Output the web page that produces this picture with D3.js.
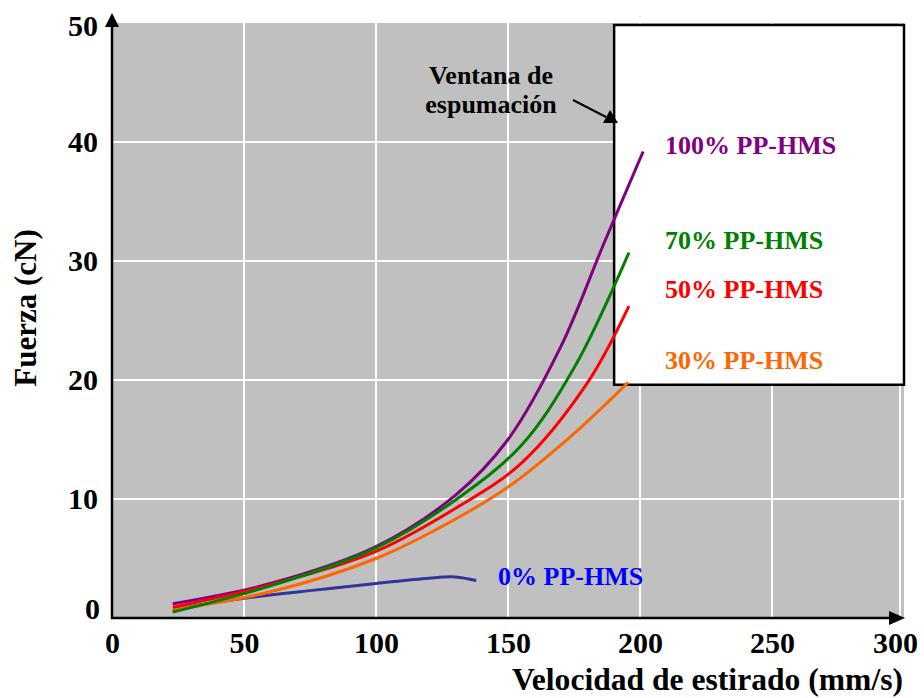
<!DOCTYPE html>
<html><head><meta charset="utf-8">
<script src="https://cdn.jsdelivr.net/npm/d3@7"></script>
</head>
<body style="margin:0;background:#fff"><svg id="c" width="924" height="698"></svg>
<script>
// ---- data ----
const xTicks = [0, 50, 100, 150, 200, 250, 300];
const yTicks = [0, 10, 20, 30, 40, 50];
const seriesNames = ["100% PP-HMS", "70% PP-HMS", "50% PP-HMS", "30% PP-HMS", "0% PP-HMS"];
const seriesColors = ["#800080", "#008000", "#ff0000", "#ff6600", "#333399"];
const labelColors = ["#800080", "#008000", "#ff0000", "#ff6600", "#0000ff"];
const pp100 = [[23,1.2],[60,2.9],[100,6.0],[130,10.3],[150,15.0],[170,22.8],[186,31.3],[201.2,39.2]];
const pp70  = [[23,0.5],[60,2.7],[100,5.9],[130,9.9],[155,14.5],[175,21.0],[195.8,30.7]];
const pp50  = [[23,0.9],[60,2.8],[100,5.6],[130,9.2],[155,13.0],[180.2,19.8],[195.8,26.2]];
const pp30  = [[23,0.7],[60,2.2],[100,5.0],[130,8.3],[150,11.0],[175,15.5],[195.5,19.8]];
const pp0   = [[25,0.8],[50,1.65],[75,2.3],[100,2.9],[120,3.35],[130,3.45],[138,3.15]];
const seriesData = [pp100, pp70, pp50, pp30, pp0];
const windowBox = {x0:190.2, x1:300, y0:19.6, y1:50};
const windowText = ["Ventana de", "espumación"];

// ---- drawing ----
const FONT = '"Liberation Serif"';
const svg = d3.select("#c");
const x = d3.scaleLinear().domain([0,300]).range([112,904]);
const y = d3.scaleLinear().domain([0,50]).range([618,23]);

function styleText(sel, size) {
  return sel.style("font-family", FONT).style("font-weight", "bold").style("font-size", size + "px");
}

// plot background
svg.append("rect").attr("x",x(0)).attr("y",y(50)).attr("width",x(300)-x(0)).attr("height",y(0)-y(50)).attr("fill","#c0c0c0");

// gridlines
svg.append("g").selectAll("line").data(xTicks.filter(d=>d>0)).join("line")
  .attr("x1",d=>x(d)-(d===300?4:0)).attr("x2",d=>x(d)-(d===300?4:0)).attr("y1",y(0)).attr("y2",y(50))
  .attr("stroke","#fff").attr("stroke-width",2);
svg.append("g").selectAll("line").data(yTicks.filter(d=>d>0 && d<50)).join("line")
  .attr("x1",x(0)).attr("x2",x(300)).attr("y1",d=>y(d)).attr("y2",d=>y(d))
  .attr("stroke","#fff").attr("stroke-width",2);

// window box
svg.append("rect").attr("x",x(windowBox.x0)).attr("y",y(windowBox.y1)+2)
  .attr("width",x(windowBox.x1)-x(windowBox.x0)).attr("height",y(windowBox.y0)-y(windowBox.y1)-2)
  .attr("fill","#fff").attr("stroke","#000").attr("stroke-width",2.5);

// window text and arrow
svg.selectAll("text.win").data(windowText).join("text").attr("class","win")
  .attr("x",491).attr("y",(d,i)=>84+i*29).attr("text-anchor","middle").attr("fill","#000")
  .call(styleText, 26).text(d=>d);
svg.append("line").attr("x1",573).attr("y1",100).attr("x2",606).attr("y2",117).attr("stroke","#000").attr("stroke-width",2);
svg.append("path").attr("d","M618,123 L603,123 L610,110 Z").attr("fill","#000");

// axes lines with arrows
svg.append("line").attr("x1",x(0)).attr("x2",x(0)).attr("y1",y(0)+1).attr("y2",22).attr("stroke","#000").attr("stroke-width",2.5);
svg.append("path").attr("d",`M${x(0)},13 L${x(0)-7},27 L${x(0)+7},27 Z`).attr("fill","#000");
svg.append("line").attr("x1",x(0)-1).attr("x2",894).attr("y1",y(0)).attr("y2",y(0)).attr("stroke","#000").attr("stroke-width",2.5);
svg.append("path").attr("d",`M905,${y(0)} L889,${y(0)-7} L889,${y(0)+7} Z`).attr("fill","#000");

// curves
const line = d3.line().x(d=>x(d[0])).y(d=>y(d[1])).curve(d3.curveCatmullRom.alpha(0.5));
const order = [4,3,0,2,1];
svg.append("g").selectAll("path").data(order).join("path")
  .attr("d",i=>line(seriesData[i])).attr("fill","none")
  .attr("stroke",i=>seriesColors[i]).attr("stroke-width",3);

// series labels
svg.selectAll("text.lab").data(seriesNames).join("text").attr("class","lab")
  .attr("x",(d,i)=>i===4?498:665)
  .attr("y",(d,i)=>[154,249,298,369,585][i])
  .attr("fill",(d,i)=>labelColors[i]).call(styleText, 26).text(d=>d);

// tick labels
const xAxis = d3.axisBottom(x).tickValues(xTicks).tickSize(0).tickPadding(0).tickFormat(d3.format("d"));
const gx = svg.append("g").attr("transform",`translate(0,${y(0)})`).call(xAxis);
gx.select(".domain").remove();
gx.attr("font-family",null).attr("font-size",null);
gx.selectAll("text").call(styleText, 30).attr("fill","#000").attr("dy",null).attr("y",35);
gx.selectAll("text").filter(d=>d===300).attr("dx",-9);
const yAxis = d3.axisLeft(y).tickValues(yTicks).tickSize(0).tickPadding(0).tickFormat(d3.format("d"));
const gy = svg.append("g").attr("transform",`translate(98,0)`).call(yAxis);
gy.select(".domain").remove();
gy.attr("font-family",null).attr("font-size",null);
gy.selectAll("text").call(styleText, 30).attr("fill","#000").attr("dy","0.32em").attr("x",0);
gy.selectAll("text").filter(d=>d===0).attr("dy","0.0em").attr("x",2);
gy.selectAll("text").filter(d=>d===50).attr("dy","0.42em");

// axis titles
svg.append("text").attr("x",903).attr("y",690).attr("text-anchor","end").attr("fill","#000")
  .call(styleText, 31.6).text("Velocidad de estirado (mm/s)");
svg.append("text").attr("transform","translate(36,308) rotate(-90)").attr("text-anchor","middle").attr("fill","#000")
  .call(styleText, 31).text("Fuerza (cN)");
</script></body></html>
